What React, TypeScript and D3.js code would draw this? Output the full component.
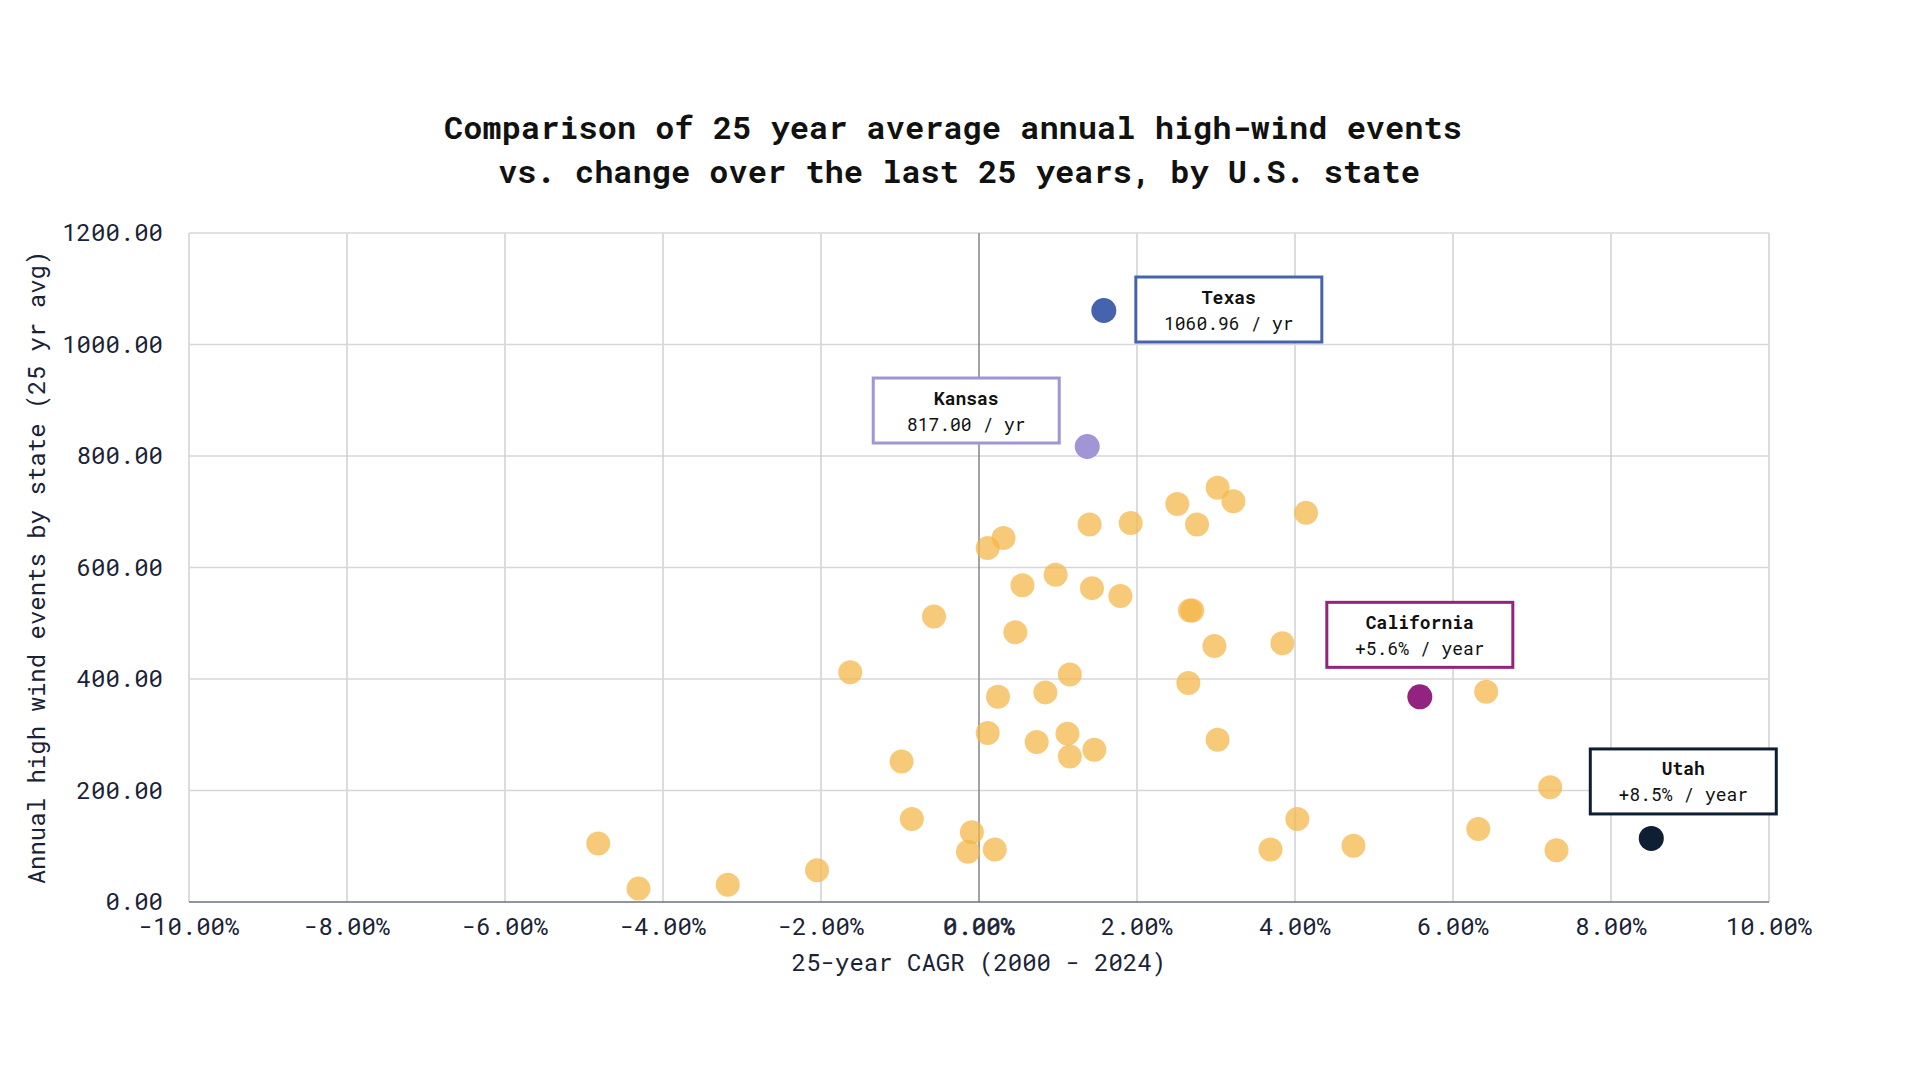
import * as d3 from "d3";
import React, { useEffect, useRef } from "react";

// 25-year CAGR (%) and 25 yr average annual high-wind events, other states
const otherCagr = [
  -4.82, -4.31, -3.18, -2.05, -1.63, -0.98, -0.85, -0.57, -0.09, -0.14,
  0.2, 0.11, 0.31, 0.11, 0.24, 0.46, 0.55, 0.84, 0.73, 0.97,
  1.15, 1.12, 1.15, 1.46, 1.4, 1.43, 1.79, 1.92, 2.51, 3.02,
  3.22, 2.76, 2.67, 2.7, 2.98, 2.65, 3.02, 4.14, 3.84, 4.03,
  3.69, 4.74, 6.42, 6.32, 7.23, 7.31,
];
const otherEvents = [
  105, 24, 31, 57, 412, 252, 149, 512, 125, 90,
  94, 635, 653, 303, 368, 484, 568, 376, 287, 587,
  408, 302, 261, 273, 677, 563, 549, 680, 714, 743,
  719, 677, 523, 523, 459, 393, 291, 698, 464, 149,
  94, 101, 377, 131, 206, 93,
];

// highlighted states
const hlNames = ["Texas", "Kansas", "California", "Utah"];
const hlCagr = [1.58, 1.37, 5.58, 8.51];
const hlEvents = [1060.96, 817.0, 368, 114];
const hlLabels = ["1060.96 / yr", "817.00 / yr", "+5.6% / year", "+8.5% / year"];
const hlColors = ["#4663ae", "#a295d6", "#922480", "#0e1e33"];

const xTicks = [-10, -8, -6, -4, -2, 0, 2, 4, 6, 8, 10];
const yTicks = [0, 200, 400, 600, 800, 1000, 1200];

const FONT = "'Roboto Mono', 'DejaVu Sans Mono', 'Liberation Mono', monospace";

const ScatterChart = () => {
  const svgRef = useRef<SVGSVGElement>(null);

  useEffect(() => {
    const width = 1920;
    const height = 1080;
    const margin = { left: 189, right: 151, top: 233, bottom: 178 };

    const svg = d3.select(svgRef.current).attr("width", width).attr("height", height);
    svg.selectAll("*").remove();

    const x = d3.scaleLinear().domain([-10, 10]).range([margin.left, width - margin.right]);
    const y = d3.scaleLinear().domain([0, 1200]).range([height - margin.bottom, margin.top]);

    // title
    const title = svg
      .append("text")
      .attr("text-anchor", "middle")
      .style("font-family", FONT)
      .style("font-weight", "bold")
      .style("font-size", "32px")
      .style("fill", "#111111");
    title.append("tspan").attr("x", 953).attr("y", 139).text("Comparison of 25 year average annual high-wind events");
    title.append("tspan").attr("x", 959).attr("y", 183).text("vs. change over the last 25 years, by U.S. state");

    // grid
    svg
      .selectAll("line.vgrid")
      .data(xTicks.filter((d) => d !== 0))
      .enter()
      .append("line")
      .attr("x1", (d) => x(d))
      .attr("x2", (d) => x(d))
      .attr("y1", y(1200))
      .attr("y2", y(0))
      .attr("stroke", "#cfcfd6")
      .attr("stroke-width", 1.5);

    svg
      .selectAll("line.hgrid")
      .data(yTicks.filter((d) => d !== 0))
      .enter()
      .append("line")
      .attr("x1", x(-10))
      .attr("x2", x(10))
      .attr("y1", (d) => y(d))
      .attr("y2", (d) => y(d))
      .attr("stroke", "#d6d6dc")
      .attr("stroke-width", 1.5);

    // zero line and x axis line
    svg
      .append("line")
      .attr("x1", x(0))
      .attr("x2", x(0))
      .attr("y1", y(1200))
      .attr("y2", y(0))
      .attr("stroke", "#85858a")
      .attr("stroke-width", 1.5);
    svg
      .append("line")
      .attr("x1", x(-10))
      .attr("x2", x(10))
      .attr("y1", y(0))
      .attr("y2", y(0))
      .attr("stroke", "#6b7280")
      .attr("stroke-width", 1.5);

    // tick labels
    svg
      .selectAll("text.xtick")
      .data(xTicks)
      .enter()
      .append("text")
      .attr("x", (d) => x(d))
      .attr("y", 935)
      .attr("text-anchor", "middle")
      .style("font-family", FONT)
      .style("font-size", "24px")
      .style("fill", "#1a2236")
      .style("stroke", (d) => (d === 0 ? "#1a2236" : "none"))
      .style("stroke-width", 0.6)
      .text((d) => `${d.toFixed(2)}%`);

    svg
      .selectAll("text.ytick")
      .data(yTicks)
      .enter()
      .append("text")
      .attr("x", 163)
      .attr("y", (d) => y(d) + 8)
      .attr("text-anchor", "end")
      .style("font-family", FONT)
      .style("font-size", "24px")
      .style("fill", "#1a2236")
      .text((d) => d.toFixed(2));

    // axis titles
    svg
      .append("text")
      .attr("x", x(0))
      .attr("y", 971)
      .attr("text-anchor", "middle")
      .style("font-family", FONT)
      .style("font-size", "24px")
      .style("fill", "#1a2236")
      .text("25-year CAGR (2000 - 2024)");

    svg
      .append("text")
      .attr("transform", `translate(45,${y(600)}) rotate(-90)`)
      .attr("text-anchor", "middle")
      .style("font-family", FONT)
      .style("font-size", "24px")
      .style("fill", "#1a2236")
      .text("Annual high wind events by state (25 yr avg)");

    // other states
    svg
      .selectAll("circle.other")
      .data(otherCagr.map((c, i) => ({ c, e: otherEvents[i] })))
      .enter()
      .append("circle")
      .attr("cx", (d) => x(d.c))
      .attr("cy", (d) => y(d.e))
      .attr("r", 12)
      .attr("fill", "#f4b649")
      .attr("fill-opacity", 0.73);

    // highlighted states
    svg
      .selectAll("circle.hl")
      .data(hlNames)
      .enter()
      .append("circle")
      .attr("cx", (d, i) => x(hlCagr[i]))
      .attr("cy", (d, i) => y(hlEvents[i]))
      .attr("r", 12.5)
      .attr("fill", (d, i) => hlColors[i]);

    // annotation boxes: offset of box centre from its point
    const boxOffsets = [
      { dx: 125, dy: -1 },
      { dx: -121, dy: -36 },
      { dx: 0, dy: -62 },
      { dx: 32, dy: -57 },
    ];
    const boxW = 186;
    const boxH = 65;

    const ann = svg
      .selectAll("g.ann")
      .data(hlNames)
      .enter()
      .append("g")
      .attr("transform", (d, i) => {
        const cx = x(hlCagr[i]) + boxOffsets[i].dx;
        const cy = y(hlEvents[i]) + boxOffsets[i].dy;
        return `translate(${cx},${cy})`;
      });

    ann
      .append("rect")
      .attr("x", -boxW / 2)
      .attr("y", -boxH / 2)
      .attr("width", boxW)
      .attr("height", boxH)
      .attr("fill", "#ffffff")
      .attr("stroke", (d, i) => hlColors[i])
      .attr("stroke-width", 3);

    ann
      .append("text")
      .attr("y", -6)
      .attr("text-anchor", "middle")
      .style("font-family", FONT)
      .style("font-weight", "bold")
      .style("font-size", "18px")
      .style("fill", "#111111")
      .text((d) => d);

    ann
      .append("text")
      .attr("y", 20)
      .attr("text-anchor", "middle")
      .style("font-family", FONT)
      .style("font-size", "18px")
      .style("fill", "#111111")
      .text((d, i) => hlLabels[i]);
  }, []);

  return <svg ref={svgRef} style={{ position: "absolute", left: 0, top: 0, background: "#ffffff" }}></svg>;
};

const App = () => {
  return <ScatterChart />;
};

export default App;
